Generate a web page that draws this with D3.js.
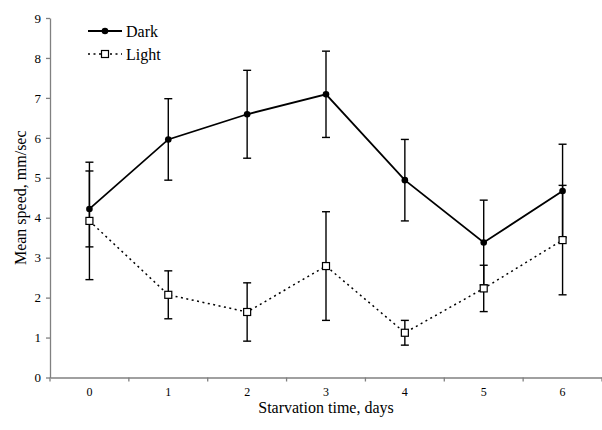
<!DOCTYPE html>
<html><head><meta charset="utf-8">
<script src="https://cdn.jsdelivr.net/npm/d3@7"></script>
<style>body{margin:0;background:#fff}svg{display:block}</style>
</head><body><div id="chart"></div>
<script>
const days = ["0","1","2","3","4","5","6"];
const darkMean = [4.22, 5.96, 6.59, 7.09, 4.94, 3.38, 4.67];
const darkErr  = [0.95, 1.02, 1.10, 1.08, 1.02, 1.06, 1.17];
const lightMean = [3.92, 2.07, 1.64, 2.79, 1.12, 2.23, 3.44];
const lightErr  = [1.47, 0.60, 0.73, 1.36, 0.31, 0.58, 1.37];
const yTicks = [0,1,2,3,4,5,6,7,8,9];
const seriesNames = ["Dark", "Light"];

const W = 602, H = 430;
const font = "'Liberation Serif','DejaVu Serif',serif";
const svg = d3.select("#chart").append("svg").attr("width", W).attr("height", H);

const x = d3.scaleBand().domain(days).range([50, 602]);
const y = d3.scaleLinear().domain([0, 9]).range([377.5, 18]);
const cx = d => x(d) + x.bandwidth() / 2;

// axes
const axisColor = "#808080";
const yAxis = svg.append("g").attr("transform", "translate(50,0)")
  .call(d3.axisLeft(y).tickValues(yTicks).tickSize(4).tickSizeOuter(0));
yAxis.select(".domain").attr("stroke", axisColor).attr("stroke-width", 1.3);
yAxis.selectAll(".tick line").attr("stroke", axisColor).attr("stroke-width", 1.3);
yAxis.selectAll(".tick text").attr("font-family", font).attr("font-size", 13).attr("fill", "#000").attr("x", -9);

const xAxis = svg.append("g").attr("transform", "translate(0,377.5)")
  .call(d3.axisBottom(x).tickSize(0).tickSizeOuter(0));
xAxis.select(".domain").attr("stroke", axisColor).attr("stroke-width", 1.3);
xAxis.selectAll(".tick text").attr("font-family", font).attr("font-size", 12).attr("fill", "#000").attr("y", 10);
// boundary ticks
const bounds = days.map(d => x(d)).concat([x.range()[1]]);
svg.append("g").selectAll("line").data(bounds).join("line")
  .attr("x1", d => d).attr("x2", d => d).attr("y1", 377.5).attr("y2", 381.5)
  .attr("stroke", axisColor).attr("stroke-width", 1.3);

// axis titles
svg.append("text").attr("x", (50 + 602) / 2).attr("y", 413).attr("text-anchor", "middle")
  .attr("font-family", font).attr("font-size", 16).text("Starvation time, days");
svg.append("text").attr("transform", `translate(26,${(18 + 377.5) / 2}) rotate(-90)`)
  .attr("text-anchor", "middle").attr("font-family", font).attr("font-size", 16).text("Mean speed, mm/sec");

function errorBars(mean, err) {
  const g = svg.append("g").attr("stroke", "#000").attr("stroke-width", 1.4);
  days.forEach((d, i) => {
    const X = cx(d), y1 = y(mean[i] + err[i]), y0 = y(mean[i] - err[i]);
    g.append("line").attr("x1", X).attr("x2", X).attr("y1", y1).attr("y2", y0);
    g.append("line").attr("x1", X - 4).attr("x2", X + 4).attr("y1", y1).attr("y2", y1);
    g.append("line").attr("x1", X - 4).attr("x2", X + 4).attr("y1", y0).attr("y2", y0);
  });
}
errorBars(darkMean, darkErr);
errorBars(lightMean, lightErr);

const line = d3.line().x((v, i) => cx(days[i])).y(v => y(v));
svg.append("path").datum(lightMean).attr("d", line).attr("fill", "none")
  .attr("stroke", "#000").attr("stroke-width", 1.5).attr("stroke-dasharray", "2,3.5");
svg.append("path").datum(darkMean).attr("d", line).attr("fill", "none")
  .attr("stroke", "#000").attr("stroke-width", 1.8);

svg.append("g").selectAll("rect").data(lightMean).join("rect")
  .attr("x", (v, i) => cx(days[i]) - 3.5).attr("y", v => y(v) - 3.5)
  .attr("width", 7).attr("height", 7).attr("fill", "#fff").attr("stroke", "#000").attr("stroke-width", 1.2);
svg.append("g").selectAll("circle").data(darkMean).join("circle")
  .attr("cx", (v, i) => cx(days[i])).attr("cy", v => y(v)).attr("r", 3.3).attr("fill", "#000");

// legend
const lg = svg.append("g");
const ly = [31, 54];
lg.append("line").attr("x1", 88).attr("x2", 122).attr("y1", ly[0]).attr("y2", ly[0]).attr("stroke", "#000").attr("stroke-width", 1.8);
lg.append("circle").attr("cx", 105).attr("cy", ly[0]).attr("r", 3.3).attr("fill", "#000");
lg.append("line").attr("x1", 88).attr("x2", 122).attr("y1", ly[1]).attr("y2", ly[1]).attr("stroke", "#000").attr("stroke-width", 1.5).attr("stroke-dasharray", "2,3.5");
lg.append("rect").attr("x", 101.5).attr("y", ly[1] - 3.5).attr("width", 7).attr("height", 7).attr("fill", "#fff").attr("stroke", "#000").attr("stroke-width", 1.2);
seriesNames.forEach((n, i) => {
  lg.append("text").attr("x", 126).attr("y", ly[i]).attr("dy", "0.35em")
    .attr("font-family", font).attr("font-size", 16).text(n);
});
</script></body></html>
